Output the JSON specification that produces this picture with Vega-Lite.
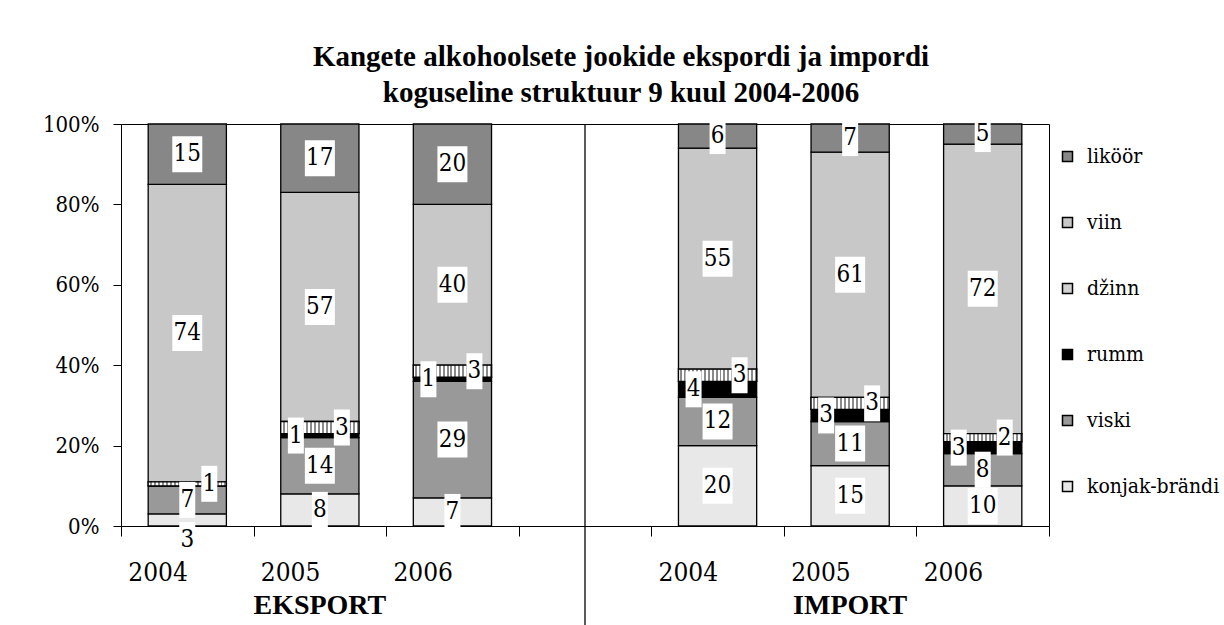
{
  "$schema": "https://vega.github.io/schema/vega-lite/v6.json",
  "width": 928,
  "height": 402,
  "autosize": {"type": "none"},
  "padding": {"left": 121, "top": 124, "right": 175, "bottom": 99},
  "background": "white",
  "config": {"view": {"stroke": "#000", "strokeWidth": 1}},
  "title": {
    "text": ["Kangete alkohoolsete jookide ekspordi ja impordi", "koguseline struktuur 9 kuul 2004-2006"],
    "font": "Liberation Serif", "fontSize": 29, "fontWeight": "bold", "lineHeight": 36,
    "anchor": "middle", "dx": 36, "offset": 5, "color": "#000"
  },
  "datasets": {
    "main": [
      {"cat": "E2004", "s": "konjak-brändi", "v": 3},
      {"cat": "E2004", "s": "viski", "v": 7},
      {"cat": "E2004", "s": "rumm", "v": 0},
      {"cat": "E2004", "s": "džinn", "v": 1},
      {"cat": "E2004", "s": "viin", "v": 74},
      {"cat": "E2004", "s": "liköör", "v": 15},
      {"cat": "E2005", "s": "konjak-brändi", "v": 8},
      {"cat": "E2005", "s": "viski", "v": 14},
      {"cat": "E2005", "s": "rumm", "v": 1},
      {"cat": "E2005", "s": "džinn", "v": 3},
      {"cat": "E2005", "s": "viin", "v": 57},
      {"cat": "E2005", "s": "liköör", "v": 17},
      {"cat": "E2006", "s": "konjak-brändi", "v": 7},
      {"cat": "E2006", "s": "viski", "v": 29},
      {"cat": "E2006", "s": "rumm", "v": 1},
      {"cat": "E2006", "s": "džinn", "v": 3},
      {"cat": "E2006", "s": "viin", "v": 40},
      {"cat": "E2006", "s": "liköör", "v": 20},
      {"cat": "I2004", "s": "konjak-brändi", "v": 20},
      {"cat": "I2004", "s": "viski", "v": 12},
      {"cat": "I2004", "s": "rumm", "v": 4},
      {"cat": "I2004", "s": "džinn", "v": 3},
      {"cat": "I2004", "s": "viin", "v": 55},
      {"cat": "I2004", "s": "liköör", "v": 6},
      {"cat": "I2005", "s": "konjak-brändi", "v": 15},
      {"cat": "I2005", "s": "viski", "v": 11},
      {"cat": "I2005", "s": "rumm", "v": 3},
      {"cat": "I2005", "s": "džinn", "v": 3},
      {"cat": "I2005", "s": "viin", "v": 61},
      {"cat": "I2005", "s": "liköör", "v": 7},
      {"cat": "I2006", "s": "konjak-brändi", "v": 10},
      {"cat": "I2006", "s": "viski", "v": 8},
      {"cat": "I2006", "s": "rumm", "v": 3},
      {"cat": "I2006", "s": "džinn", "v": 2},
      {"cat": "I2006", "s": "viin", "v": 72},
      {"cat": "I2006", "s": "liköör", "v": 5}
    ],
    "groups": [
      {"cat": "E2005", "g": "EKSPORT"},
      {"cat": "I2005", "g": "IMPORT"}
    ]
  },
  "layer": [
    {
      "data": {"values": [{}]},
      "mark": {"type": "rule", "color": "#000", "strokeWidth": 1.3},
      "encoding": {
        "x": {"datum": "GAP", "type": "nominal", "title": null},
        "y": {"datum": 100, "type": "quantitative", "title": null, "scale": {"domain": [0, 100], "nice": false}},
        "y2": {"datum": -26}
      }
    },
    {
      "data": {"name": "main"},
      "transform": [
        {"calculate": "indexof(['konjak-brändi','viski','rumm','džinn','viin','liköör'], datum.s)", "as": "o"},
        {"stack": "v", "groupby": ["cat"], "sort": [{"field": "o", "order": "ascending"}], "as": ["y0", "y1"]},
        {"calculate": "datum.s == 'konjak-brändi' && datum.v < 4 ? datum.y0 - 3.5 : (datum.y0 + datum.y1) / 2", "as": "mid"},
        {"calculate": "datum.s == 'rumm' ? 'L' : (datum.s == 'džinn' ? 'R' : 'C')", "as": "pos"}
      ],
      "layer": [
        {
          "mark": {"type": "bar", "stroke": "#000", "strokeWidth": 1.3, "width": {"band": 0.59}},
          "encoding": {
            "x": {
              "field": "cat", "type": "nominal", "title": null,
              "scale": {"domain": ["E2004", "E2005", "E2006", "GAP", "I2004", "I2005", "I2006"], "paddingInner": 0, "paddingOuter": 0},
              "axis": {
                "labelExpr": "indexof(['E2004','E2005','E2006','I2004','I2005','I2006'], datum.value) >= 0 ? substring(datum.value, 1) : ''",
                "labelAngle": 0, "labelFont": "DejaVu Serif Condensed, DejaVu Serif", "labelFontSize": 26, "labelColor": "#000",
                "labelPadding": 36, "tickBand": "extent", "tickSize": 10, "tickColor": "#000",
                "domainColor": "#000", "grid": false
              }
            },
            "y": {
              "field": "y1", "type": "quantitative", "title": null,
              "scale": {"domain": [0, 100], "nice": false},
              "axis": {
                "values": [0, 20, 40, 60, 80, 100], "labelExpr": "datum.value + '%'",
                "labelFont": "DejaVu Serif Condensed, DejaVu Serif", "labelFontSize": 22, "labelColor": "#000",
                "tickSize": 8, "tickColor": "#000", "domainColor": "#000",
                "gridColor": "#000", "gridOpacity": 1, "labelPadding": 14
              }
            },
            "y2": {"field": "y0"},
            "color": {
              "field": "s", "type": "nominal",
              "scale": {
                "domain": ["liköör", "viin", "džinn", "rumm", "viski", "konjak-brändi"],
                "range": ["#878787", "#c8c8c8", "#d2d2d2", "#000000", "#999999", "#e8e8e8"]
              },
              "legend": {
                "orient": "none", "legendX": 936, "legendY": 22, "title": null,
                "symbolType": "square", "symbolSize": 100, "symbolStrokeColor": "#000",
                "symbolStrokeWidth": 1.5, "symbolOpacity": 1, "labelLimit": 400,
                "labelFont": "DejaVu Serif Condensed, DejaVu Serif", "labelFontSize": 21, "labelColor": "#000",
                "rowPadding": 44, "labelOffset": 9
              }
            }
          }
        },
        {
          "transform": [{"filter": "datum.s == 'džinn'"}],
          "mark": {
            "type": "bar", "stroke": "#000", "strokeWidth": 1.3, "width": {"band": 0.59},
            "color": {
              "gradient": "linear", "x1": 0, "x2": 1, "y1": 0, "y2": 0,
              "stops": [
                {"offset": 0, "color": "#ffffff"}, {"offset": 0.025, "color": "#ffffff"}, {"offset": 0.025, "color": "#8a8a8a"}, {"offset": 0.05, "color": "#8a8a8a"},
                {"offset": 0.05, "color": "#ffffff"}, {"offset": 0.075, "color": "#ffffff"}, {"offset": 0.075, "color": "#8a8a8a"}, {"offset": 0.1, "color": "#8a8a8a"},
                {"offset": 0.1, "color": "#ffffff"}, {"offset": 0.125, "color": "#ffffff"}, {"offset": 0.125, "color": "#8a8a8a"}, {"offset": 0.15, "color": "#8a8a8a"},
                {"offset": 0.15, "color": "#ffffff"}, {"offset": 0.175, "color": "#ffffff"}, {"offset": 0.175, "color": "#8a8a8a"}, {"offset": 0.2, "color": "#8a8a8a"},
                {"offset": 0.2, "color": "#ffffff"}, {"offset": 0.225, "color": "#ffffff"}, {"offset": 0.225, "color": "#8a8a8a"}, {"offset": 0.25, "color": "#8a8a8a"},
                {"offset": 0.25, "color": "#ffffff"}, {"offset": 0.275, "color": "#ffffff"}, {"offset": 0.275, "color": "#8a8a8a"}, {"offset": 0.3, "color": "#8a8a8a"},
                {"offset": 0.3, "color": "#ffffff"}, {"offset": 0.325, "color": "#ffffff"}, {"offset": 0.325, "color": "#8a8a8a"}, {"offset": 0.35, "color": "#8a8a8a"},
                {"offset": 0.35, "color": "#ffffff"}, {"offset": 0.375, "color": "#ffffff"}, {"offset": 0.375, "color": "#8a8a8a"}, {"offset": 0.4, "color": "#8a8a8a"},
                {"offset": 0.4, "color": "#ffffff"}, {"offset": 0.425, "color": "#ffffff"}, {"offset": 0.425, "color": "#8a8a8a"}, {"offset": 0.45, "color": "#8a8a8a"},
                {"offset": 0.45, "color": "#ffffff"}, {"offset": 0.475, "color": "#ffffff"}, {"offset": 0.475, "color": "#8a8a8a"}, {"offset": 0.5, "color": "#8a8a8a"},
                {"offset": 0.5, "color": "#ffffff"}, {"offset": 0.525, "color": "#ffffff"}, {"offset": 0.525, "color": "#8a8a8a"}, {"offset": 0.55, "color": "#8a8a8a"},
                {"offset": 0.55, "color": "#ffffff"}, {"offset": 0.575, "color": "#ffffff"}, {"offset": 0.575, "color": "#8a8a8a"}, {"offset": 0.6, "color": "#8a8a8a"},
                {"offset": 0.6, "color": "#ffffff"}, {"offset": 0.625, "color": "#ffffff"}, {"offset": 0.625, "color": "#8a8a8a"}, {"offset": 0.65, "color": "#8a8a8a"},
                {"offset": 0.65, "color": "#ffffff"}, {"offset": 0.675, "color": "#ffffff"}, {"offset": 0.675, "color": "#8a8a8a"}, {"offset": 0.7, "color": "#8a8a8a"},
                {"offset": 0.7, "color": "#ffffff"}, {"offset": 0.725, "color": "#ffffff"}, {"offset": 0.725, "color": "#8a8a8a"}, {"offset": 0.75, "color": "#8a8a8a"},
                {"offset": 0.75, "color": "#ffffff"}, {"offset": 0.775, "color": "#ffffff"}, {"offset": 0.775, "color": "#8a8a8a"}, {"offset": 0.8, "color": "#8a8a8a"},
                {"offset": 0.8, "color": "#ffffff"}, {"offset": 0.825, "color": "#ffffff"}, {"offset": 0.825, "color": "#8a8a8a"}, {"offset": 0.85, "color": "#8a8a8a"},
                {"offset": 0.85, "color": "#ffffff"}, {"offset": 0.875, "color": "#ffffff"}, {"offset": 0.875, "color": "#8a8a8a"}, {"offset": 0.9, "color": "#8a8a8a"},
                {"offset": 0.9, "color": "#ffffff"}, {"offset": 0.925, "color": "#ffffff"}, {"offset": 0.925, "color": "#8a8a8a"}, {"offset": 0.95, "color": "#8a8a8a"},
                {"offset": 0.95, "color": "#ffffff"}, {"offset": 0.975, "color": "#ffffff"}, {"offset": 0.975, "color": "#8a8a8a"}, {"offset": 1, "color": "#8a8a8a"}
              ]
            }
          },
          "encoding": {
            "x": {"field": "cat", "type": "nominal", "title": null},
            "y": {"field": "y1", "type": "quantitative", "title": null, "scale": {"domain": [0, 100], "nice": false}},
            "y2": {"field": "y0"}
          }
        },
        {
          "transform": [{"filter": "datum.pos == 'C' && datum.v > 0"}],
          "mark": {"type": "point", "filled": true, "fill": "white", "opacity": 1, "strokeWidth": 0, "size": 400},
          "encoding": {
            "x": {"field": "cat", "type": "nominal", "title": null},
            "y": {"field": "mid", "type": "quantitative", "title": null, "scale": {"domain": [0, 100], "nice": false}},
            "shape": {"condition": {"test": "datum.v >= 10", "value": "M-1.5,-1.8H1.5V1.8H-1.5Z"}, "value": "M-0.8,-1.8H0.8V1.8H-0.8Z"}
          }
        },
        {
          "transform": [{"filter": "datum.pos == 'L' && datum.v > 0"}],
          "mark": {"type": "point", "filled": true, "fill": "white", "opacity": 1, "strokeWidth": 0, "size": 400, "shape": "M-3.2,-1.8H-1.6V1.8H-3.2Z"},
          "encoding": {
            "x": {"field": "cat", "type": "nominal", "title": null},
            "y": {"field": "mid", "type": "quantitative", "title": null, "scale": {"domain": [0, 100], "nice": false}}
          }
        },
        {
          "transform": [{"filter": "datum.pos == 'R' && datum.v > 0"}],
          "mark": {"type": "point", "filled": true, "fill": "white", "opacity": 1, "strokeWidth": 0, "size": 400, "shape": "M1.4,-1.8H3.0V1.8H1.4Z"},
          "encoding": {
            "x": {"field": "cat", "type": "nominal", "title": null},
            "y": {"field": "mid", "type": "quantitative", "title": null, "scale": {"domain": [0, 100], "nice": false}}
          }
        },
        {
          "transform": [{"filter": "datum.pos == 'C' && datum.v > 0"}],
          "mark": {"type": "text", "font": "DejaVu Serif Condensed, DejaVu Serif", "fontSize": 24, "baseline": "middle", "color": "#000"},
          "encoding": {
            "x": {"field": "cat", "type": "nominal", "title": null},
            "y": {"field": "mid", "type": "quantitative", "title": null, "scale": {"domain": [0, 100], "nice": false}},
            "text": {"field": "v", "type": "quantitative"}
          }
        },
        {
          "transform": [{"filter": "datum.pos == 'L' && datum.v > 0"}],
          "mark": {"type": "text", "font": "DejaVu Serif Condensed, DejaVu Serif", "fontSize": 24, "baseline": "middle", "color": "#000", "dx": -24},
          "encoding": {
            "x": {"field": "cat", "type": "nominal", "title": null},
            "y": {"field": "mid", "type": "quantitative", "title": null, "scale": {"domain": [0, 100], "nice": false}},
            "text": {"field": "v", "type": "quantitative"}
          }
        },
        {
          "transform": [{"filter": "datum.pos == 'R' && datum.v > 0"}],
          "mark": {"type": "text", "font": "DejaVu Serif Condensed, DejaVu Serif", "fontSize": 24, "baseline": "middle", "color": "#000", "dx": 22},
          "encoding": {
            "x": {"field": "cat", "type": "nominal", "title": null},
            "y": {"field": "mid", "type": "quantitative", "title": null, "scale": {"domain": [0, 100], "nice": false}},
            "text": {"field": "v", "type": "quantitative"}
          }
        }
      ]
    },
    {
      "data": {"name": "groups"},
      "mark": {"type": "text", "font": "Liberation Serif", "fontSize": 28, "fontWeight": "bold", "baseline": "middle", "color": "#000"},
      "encoding": {
        "x": {"field": "cat", "type": "nominal", "title": null},
        "y": {"datum": -20, "type": "quantitative", "title": null, "scale": {"domain": [0, 100], "nice": false}},
        "text": {"field": "g"}
      }
    }
  ]
}
